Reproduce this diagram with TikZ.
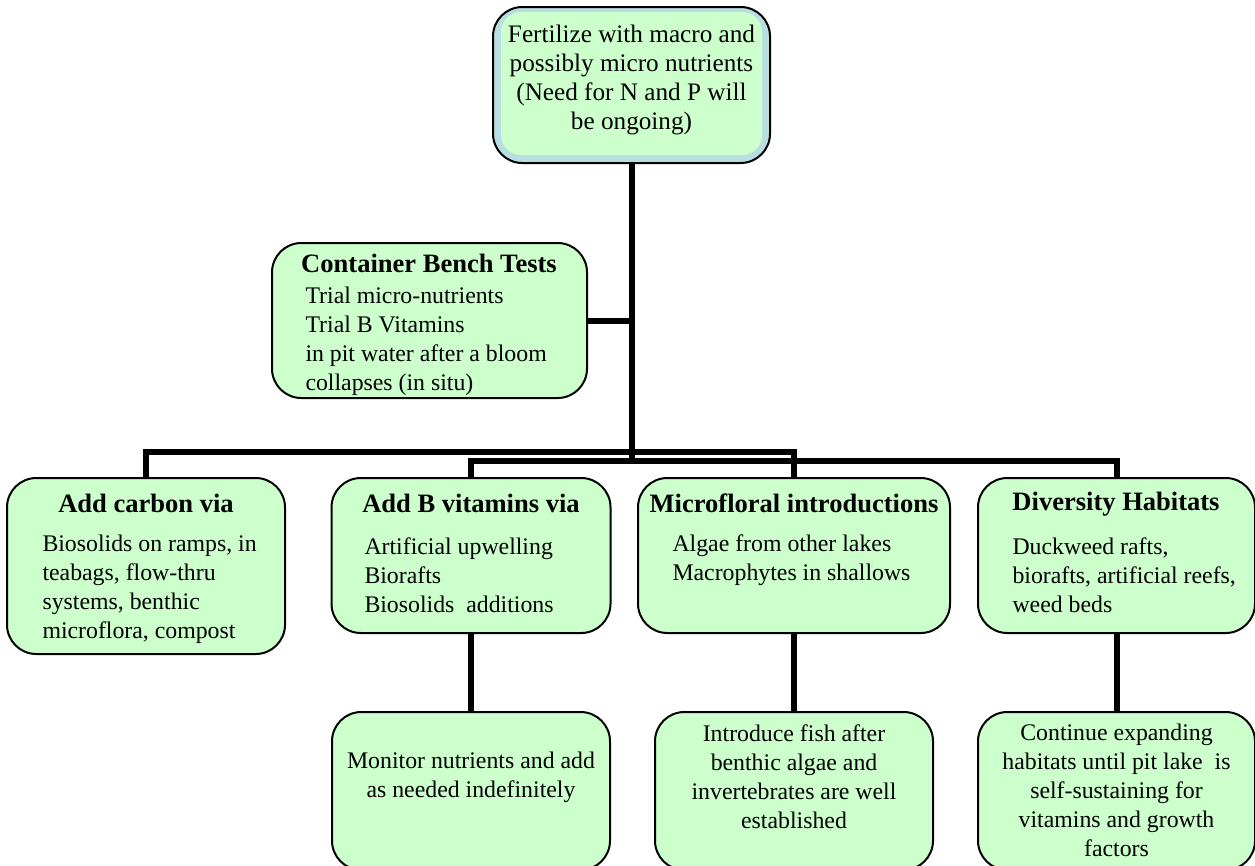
\documentclass[tikz,border=0pt]{standalone}
\usepackage{fontspec}
\setmainfont{Liberation Serif}

\definecolor{boxgreen}{RGB}{204,255,204}
\definecolor{bandblue}{RGB}{184,222,226}

\tikzset{every picture/.style={line width=0.75pt}}
\tikzset{
  box/.style 2 args={draw, line width=1.5pt, rounded corners=22pt, fill=boxgreen, inner sep=0pt,
    minimum width=#1*0.75pt, minimum height=#2*0.75pt},
  link/.style={line width=4.5pt},
  bodytxt/.style={inner sep=0pt, font=\fontsize{17.85}{21.75}\selectfont},
  headtxt/.style={inner sep=0pt, font=\bfseries\fontsize{19.9}{21.75}\selectfont},
}

\begin{document}
\begin{tikzpicture}[x=0.75pt,y=0.75pt,yscale=-1,xscale=1]
	\useasboundingbox (0,0) rectangle (1255,865);
	\clip (0,0) rectangle (1255,865);

	%Rounded Rect: top box with its blue band
	\node (top) [box={277}{156}, fill=bandblue] at (631.5,85) {};
	\node (topin) [fill=boxgreen, rounded corners=15pt, inner sep=0pt, minimum width=261*0.75pt, minimum height=143*0.75pt] at (631.5,83.5) {};
	%Rounded Rect
	\node (bench) [box={315}{155}] at (429.5,320.5) {};
	%Rounded Rect
	\node (carbon) [box={278}{176}] at (146,566) {};
	\node (vitb) [box={279}{155}] at (471,555.5) {};
	\node (micro) [box={312}{155}] at (794,555.5) {};
	\node (habitat) [box={277}{155}] at (1116.5,555.5) {};
	%Rounded Rect
	\node (monitor) [box={278}{158}] at (471,791) {};
	\node (fish) [box={278}{158}] at (794,791) {};
	\node (expand) [box={277}{158}] at (1116.5,791) {};

	% Text Node
	\node (toptxt) [bodytxt, align=center, font=\fontsize{18.9}{21.75}\selectfont] at (631.5,79.5) {Fertilize with macro and\\possibly micro nutrients\\(Need for N and P will\\be ongoing)};
	% Text Node
	\node (benchhd) [headtxt] at (429,263) {Container Bench Tests};
	\node (benchtxt) [bodytxt, align=left, anchor=west] at (305,341.5) {Trial micro-nutrients\\Trial B Vitamins\\in pit water after a bloom\\collapses (in situ)};
	% Text Node
	\node (carbonhd) [headtxt] at (146,503) {Add carbon via};
	\node (carbontxt) [bodytxt, align=left, anchor=west] at (42,589.5) {Biosolids on ramps, in\\teabags, flow-thru\\systems, benthic\\microflora, compost};
	% Text Node
	\node (vitbhd) [headtxt] at (471,503) {Add B vitamins via};
	\node (vitbtxt) [bodytxt, align=left, anchor=west] at (364,575) {Artificial upwelling\\Biorafts\\Biosolids~ additions};
	% Text Node
	\node (microhd) [headtxt] at (794,503) {Microfloral introductions};
	\node (microtxt) [bodytxt, align=left, anchor=west] at (672,560.5) {Algae from other lakes\\Macrophytes in shallows};
	% Text Node
	\node (habitathd) [headtxt] at (1116,504) {Diversity Habitats};
	\node (habitattxt) [bodytxt, align=left, anchor=west] at (1012,575) {Duckweed rafts,\\biorafts, artificial reefs,\\weed beds};
	% Text Node
	\node (monitortxt) [bodytxt, align=center] at (471,777) {Monitor nutrients and add\\as needed indefinitely};
	\node (fishtxt) [bodytxt, align=center] at (794,776.5) {Introduce fish after\\benthic algae and\\invertebrates are well\\established};
	\node (expandtxt) [bodytxt, align=center] at (1116.5,790) {Continue expanding\\habitats until pit lake~ is\\self-sustaining for\\vitamins and growth\\factors};

	% Connection
	\coordinate (jn) at (631.5,462);
	\draw [link] (top.south) -- (jn);
	\draw [link] (bench.east) -- (bench.east -| jn);
	\draw [link] (carbon.north) -- ++(0,-25) -| (micro.north);
	\draw [link] (vitb.north) -- ++(0,-16) -| (habitat.north);
	% Connection
	\draw [link] (vitb.south) -- (monitor.north);
	\draw [link] (micro.south) -- (fish.north);
	\draw [link] (habitat.south) -- (expand.north);

\end{tikzpicture}
\end{document}
